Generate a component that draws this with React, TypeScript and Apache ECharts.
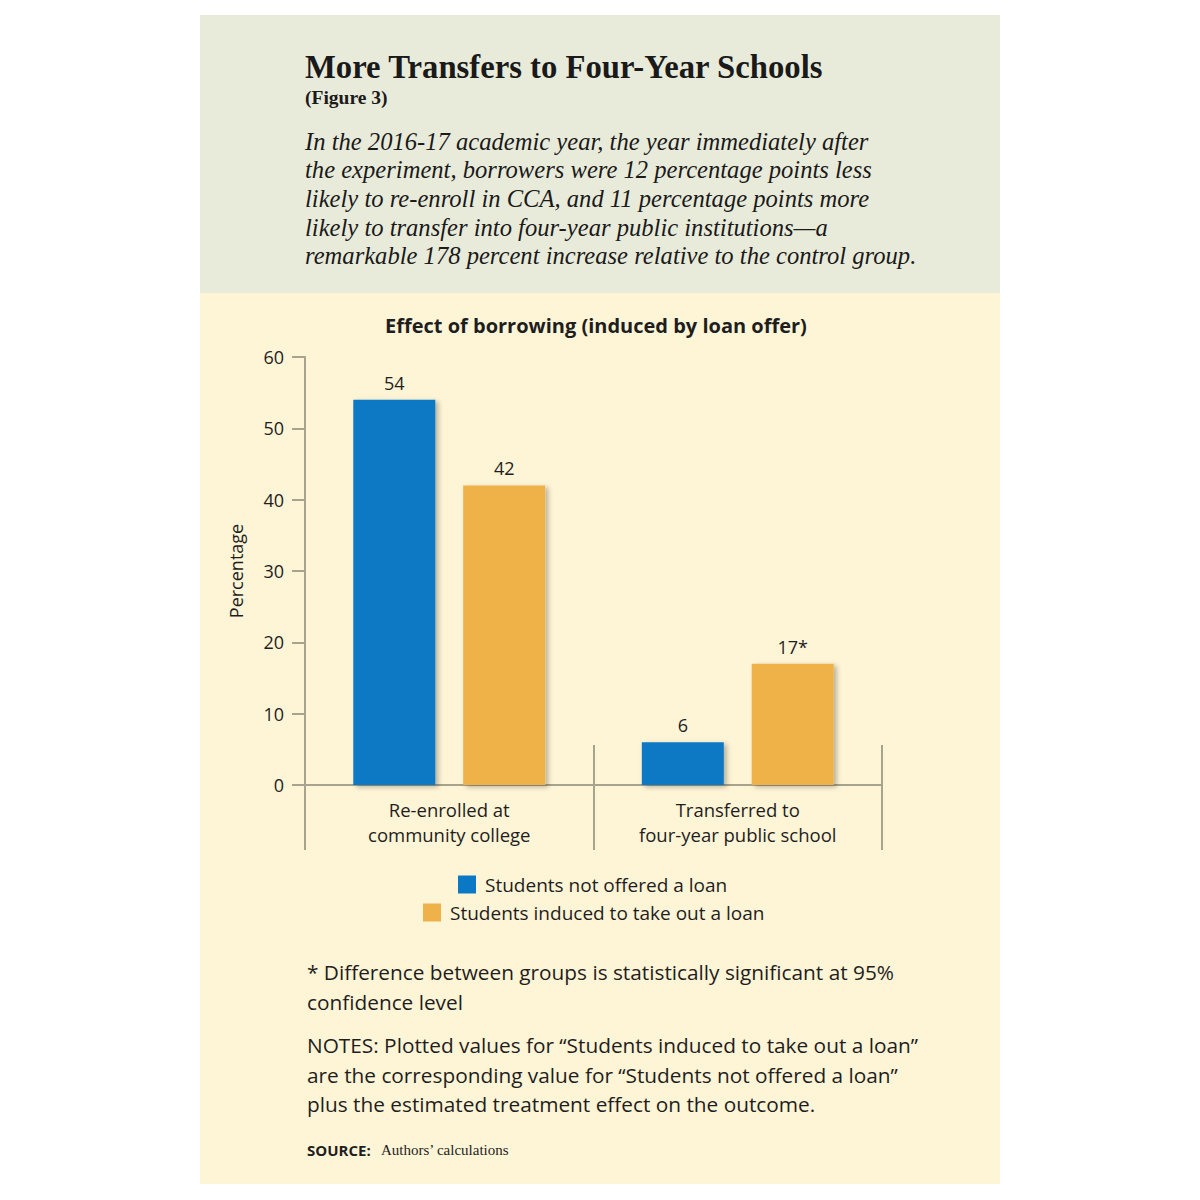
import React, { useEffect, useRef } from "react";
import * as echarts from "echarts";

const categories = ["Re-enrolled at\ncommunity college", "Transferred to\nfour-year public school"];
const notOffered = [54, 6];
const induced = [42, 17];
const inducedLabels = ["42", "17*"];
const yTicks = { min: 0, max: 60, interval: 10 };
const seriesNames = ["Students not offered a loan", "Students induced to take out a loan"];

const headerTitle = "More Transfers to Four-Year Schools";
const headerSub = "(Figure 3)";
const headerLines = [
  "In the 2016-17 academic year, the year immediately after",
  "the experiment, borrowers were 12 percentage points less",
  "likely to re-enroll in CCA, and 11 percentage points more",
  "likely to transfer into four-year public institutions\u2014a",
  "remarkable 178 percent increase relative to the control group.",
];
const noteLines = [
  "* Difference between groups is statistically significant at 95%",
  "confidence level",
];
const notesLines = [
  "NOTES: Plotted values for \u201cStudents induced to take out a loan\u201d",
  "are the corresponding value for \u201cStudents not offered a loan\u201d",
  "plus the estimated treatment effect on the outcome.",
];

const SANS = "'Open Sans', 'Noto Sans', sans-serif";
const SERIF = "'Liberation Serif', 'DejaVu Serif', serif";
const BLUE = "#0a78c4";
const ORANGE = "#efb24a";
const AXIS = "#a8a38c";
const TXT = "#1e1e1e";

export default function App() {
  const ref = useRef<HTMLDivElement>(null);
  useEffect(() => {
    if (!ref.current) return;
    const chart = echarts.init(ref.current, null, { renderer: "svg" });
    const graphics: any[] = [
      { type: "rect", z: -10, shape: { x: 200, y: 15, width: 800, height: 278 }, style: { fill: "#e9ebda" } },
      { type: "rect", z: -10, shape: { x: 200, y: 293, width: 800, height: 891 }, style: { fill: "#fef4d6" } },
      {
        type: "text", x: 305, y: 67,
        style: { text: headerTitle, font: `bold 32.7px ${SERIF}`, fill: "#1a1a1a", verticalAlign: "middle" },
      },
      {
        type: "text", x: 305, y: 97,
        style: { text: headerSub, font: `bold 19.5px ${SERIF}`, fill: "#1a1a1a", verticalAlign: "middle" },
      },
      ...headerLines.map((t, i) => ({
        type: "text", x: 305, y: 141 + i * 28.7,
        style: { text: t, font: `italic 24.6px ${SERIF}`, fill: "#1a1a1a", verticalAlign: "middle" },
      })),
      ...noteLines.map((t, i) => ({
        type: "text", x: 307, y: 972 + i * 29.5,
        style: { text: t, font: `20.8px ${SANS}`, fill: TXT, verticalAlign: "middle" },
      })),
      ...notesLines.map((t, i) => ({
        type: "text", x: 307, y: 1045 + i * 29.5,
        style: { text: t, font: `20.8px ${SANS}`, fill: TXT, verticalAlign: "middle" },
      })),
      {
        type: "text", x: 307, y: 1150,
        style: { text: "SOURCE:", font: `bold 15px ${SANS}`, fill: TXT, verticalAlign: "middle" },
      },
      {
        type: "text", x: 381, y: 1150,
        style: { text: "Authors\u2019 calculations", font: `15px ${SERIF}`, fill: TXT, verticalAlign: "middle" },
      },
    ];
    const shadow = { shadowColor: "rgba(0,0,0,0.28)", shadowBlur: 5, shadowOffsetX: 3, shadowOffsetY: 2 };
    chart.setOption({
      animation: false,
      backgroundColor: "#ffffff",
      title: {
        text: "Effect of borrowing (induced by loan offer)",
        left: 380, top: 310,
        textStyle: { fontFamily: SANS, fontWeight: "bold", fontSize: 20, color: TXT },
      },
      legend: [
        {
          data: [seriesNames[0]], left: 458, top: 875, padding: 0,
          itemWidth: 18, itemHeight: 18, icon: "rect",
          textStyle: { fontFamily: SANS, fontSize: 19, color: TXT, padding: [0, 0, 0, 4] },
        },
        {
          data: [seriesNames[1]], left: 423, top: 903, padding: 0,
          itemWidth: 18, itemHeight: 18, icon: "rect",
          textStyle: { fontFamily: SANS, fontSize: 19, color: TXT, padding: [0, 0, 0, 4] },
        },
      ],
      grid: { left: 305, right: 318, top: 357, bottom: 415 },
      xAxis: [
        {
          type: "category", data: categories, position: "bottom",
          axisLine: { lineStyle: { color: AXIS, width: 2 } },
          axisTick: { show: true, interval: 0, length: 65, lineStyle: { color: AXIS, width: 2 } },
          axisLabel: { interval: 0, margin: 12, fontFamily: SANS, fontSize: 18.5, color: TXT, lineHeight: 25 },
        },
        {
          type: "category", data: categories, position: "bottom",
          axisLine: { show: false },
          axisTick: { show: true, inside: true, interval: 0, length: 40, lineStyle: { color: AXIS, width: 2 } },
          axisLabel: { show: false },
        },
      ],
      yAxis: {
        type: "value", min: yTicks.min, max: yTicks.max, interval: yTicks.interval,
        name: "Percentage", nameLocation: "middle", nameGap: 60, nameRotate: 90,
        nameTextStyle: { fontFamily: SANS, fontSize: 18, color: TXT },
        axisLine: { show: true, lineStyle: { color: AXIS, width: 2 } },
        axisTick: { show: true, length: 13, lineStyle: { color: AXIS, width: 2 } },
        axisLabel: { margin: 21, fontFamily: SANS, fontSize: 18, color: TXT },
        splitLine: { show: false },
      },
      series: [
        {
          name: seriesNames[0], type: "bar", data: notOffered, barWidth: 82, barGap: "34%",
          itemStyle: { color: BLUE, ...shadow },
          label: { show: true, position: "top", distance: 8, fontFamily: SANS, fontSize: 18, color: TXT },
        },
        {
          name: seriesNames[1], type: "bar", data: induced, barWidth: 82,
          itemStyle: { color: ORANGE, ...shadow },
          label: {
            show: true, position: "top", distance: 8, fontFamily: SANS, fontSize: 18, color: TXT,
            formatter: (p: any) => inducedLabels[p.dataIndex],
          },
        },
      ],
      graphic: graphics,
    });
    return () => chart.dispose();
  }, []);
  return <div ref={ref} style={{ position: "fixed", left: 0, top: 0, width: 1200, height: 1200 }} />;
}
